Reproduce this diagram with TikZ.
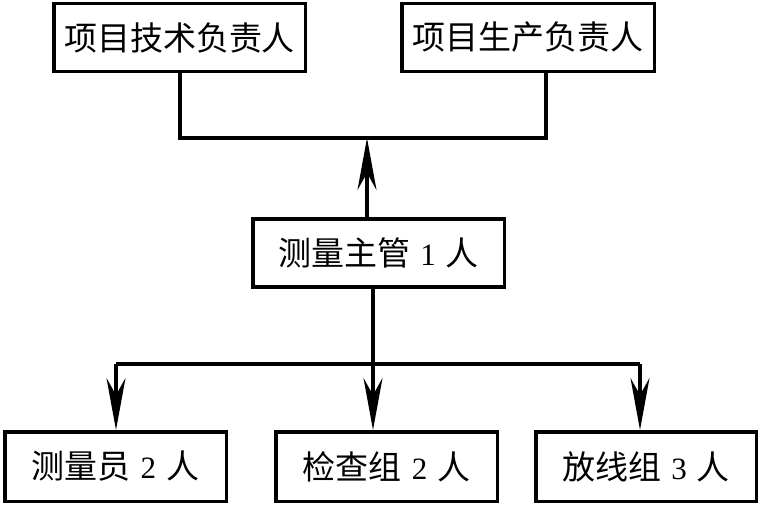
\documentclass[tikz,border=0pt]{standalone}
\usepackage{fontspec}
\newfontfamily\cjk{Noto Sans CJK SC}
\newfontfamily\numfont{Liberation Serif}
\usetikzlibrary{arrows.meta}
\newcommand{\dg}[1]{\hspace{0.3em}{\numfont\fontsize{31}{34}\selectfont #1}\hspace{0.3em}}
\tikzset{
  box/.style={draw, line width=3.5pt, inner sep=0pt, minimum height=68pt,
    font=\cjk\fontsize{33}{36}\selectfont, anchor=center},
  link/.style={line width=3.2pt},
  arr/.style={line width=3.2pt, -{Stealth[length=52pt,width=19pt,inset=17pt]}}
}
\begin{document}
\begin{tikzpicture}[x=1pt,y=-1pt]
\useasboundingbox (0,0) rectangle (761,504);
\node[box, minimum width=251.5pt] (tl) at (179.5,37.5) {项目技术负责人};
\node[box, minimum width=252.5pt] (tr) at (528,37.5) {项目生产负责人};
\node[box, minimum width=251.5pt] (mid) at (378.5,253) {测量主管\dg{1}人};
\node[box, minimum width=221.5pt, minimum height=69.5pt] (b1) at (115.5,466.5) {测量员\dg{2}人};
\node[box, minimum width=221.5pt, minimum height=69.5pt] (b2) at (386.5,466.5) {检查组\dg{2}人};
\node[box, minimum width=220.5pt, minimum height=69.5pt] (b3) at (646,466.5) {放线组\dg{3}人};
\coordinate (j1) at (367,138);
\coordinate (tlx) at (180,138);
\coordinate (trx) at (546,138);
\coordinate (j2) at (373,364);
\coordinate (h1) at (116,364);
\coordinate (h3) at (640,364);
\draw[link] (tlx |- tl.south) -- (tlx) -- (trx) -- (trx |- tr.south);
\draw[arr] (j1 |- mid.north) -- (j1);
\draw[link] (h1) -- (h3);
\draw[arr] (h1) -- (h1 |- b1.north);
\draw[arr] (j2 |- mid.south) -- (j2 |- b2.north);
\draw[arr] (h3) -- (h3 |- b3.north);
\end{tikzpicture}
\end{document}
